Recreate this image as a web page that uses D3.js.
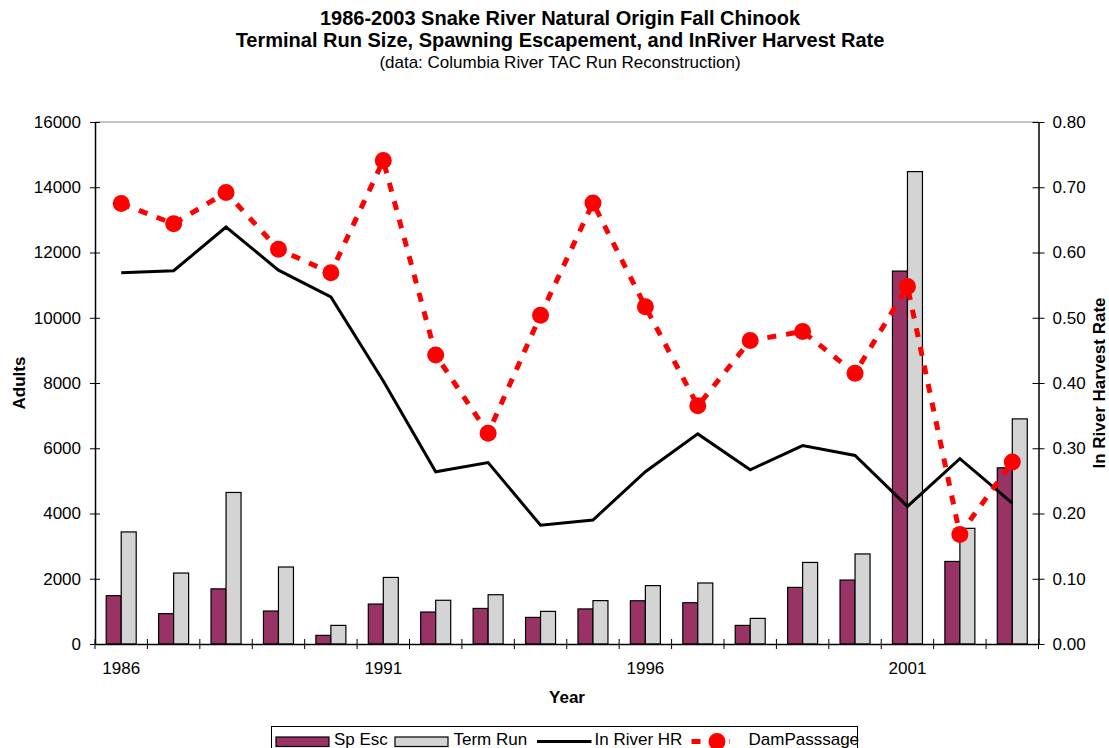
<!DOCTYPE html>
<head>
  <meta charset="utf-8">
  <script src="https://d3js.org/d3.v7.min.js"></script>
  <style>
    body { margin:0; background:#fff; }
    svg { display:block; font-family:"Liberation Sans", Arial, sans-serif; }
  </style>
</head>

<body>
  <svg width="1109" height="748"></svg>
  <script>
    // values
    var years = d3.range(1986, 2004);
    var spEsc = [1480, 930, 1690, 1010, 265, 1225, 980, 1090, 815, 1075, 1325, 1265, 570, 1735, 1960, 11430, 2530, 5400];
    var termRun = [3435, 2175, 4645, 2360, 570, 2040, 1340, 1510, 1000, 1330, 1790, 1870, 785, 2500, 2760, 14480, 3545, 6900];
    var inRiverHR = [0.569, 0.572, 0.639, 0.573, 0.532, 0.403, 0.264, 0.278, 0.182, 0.190, 0.264, 0.322, 0.267, 0.304, 0.289, 0.211, 0.284, 0.216];
    var damPassage = [0.675, 0.644, 0.692, 0.605, 0.569, 0.741, 0.443, 0.323, 0.504, 0.676, 0.517, 0.365, 0.465, 0.479, 0.415, 0.548, 0.168, 0.279];
    var leftTicks = d3.range(0, 16001, 2000);
    var rightTicks = d3.range(0, 0.81, 0.1);
    var yearLabels = [1986, 1991, 1996, 2001];

    var plot = {left: 95, right: 1038.5, top: 122, bottom: 644};
    var font = '"Liberation Sans", Arial, sans-serif';

    var svg = d3.select('svg');

    var x = d3.scaleBand().domain(years).range([plot.left, plot.right]);
    var xs = d3.scaleBand().domain(['sp', 'term']).range([0, x.bandwidth()]).paddingOuter(0.747);
    var yL = d3.scaleLinear().domain([0, 16000]).range([plot.bottom, plot.top]);
    var yR = d3.scaleLinear().domain([0, 0.8]).range([plot.bottom, plot.top]);

    // titles
    var titles = [
      {t: '1986-2003 Snake River Natural Origin Fall Chinook', y: 25, w: 'bold', s: 20},
      {t: 'Terminal Run Size, Spawning Escapement, and InRiver Harvest Rate', y: 47, w: 'bold', s: 20},
      {t: '(data: Columbia River TAC Run Reconstruction)', y: 68, w: 'normal', s: 17}
    ];
    svg.selectAll('.title').data(titles).enter().append('text')
      .attr('x', 560).attr('y', d => d.y)
      .attr('text-anchor', 'middle')
      .style('font-size', d => d.s + 'px')
      .style('font-weight', d => d.w)
      .text(d => d.t);

    // plot top border
    svg.append('line')
      .attr('x1', plot.left).attr('x2', plot.right)
      .attr('y1', plot.top).attr('y2', plot.top)
      .attr('stroke', '#888').attr('stroke-width', 1);

    // bars
    var g = svg.append('g');
    years.forEach(function(yr, i) {
      [['sp', spEsc[i], '#993366'], ['term', termRun[i], '#d4d4d4']].forEach(function(b) {
        g.append('rect')
          .attr('x', x(yr) + xs(b[0]))
          .attr('width', xs.bandwidth())
          .attr('y', yL(b[1]))
          .attr('height', plot.bottom - yL(b[1]))
          .attr('fill', b[2])
          .attr('stroke', '#000')
          .attr('stroke-width', 1.2);
      });
    });

    var cx = d => x(d) + x.bandwidth() / 2;

    // In River HR line
    svg.append('path')
      .datum(years)
      .attr('fill', 'none').attr('stroke', '#000').attr('stroke-width', 3)
      .attr('d', d3.line().x(cx).y((d, i) => yR(inRiverHR[i])));

    // DamPasssage dashed line + dots
    svg.append('path')
      .datum(years)
      .attr('fill', 'none').attr('stroke', '#ff0000').attr('stroke-width', 5)
      .attr('stroke-dasharray', '9,10')
      .attr('d', d3.line().x(cx).y((d, i) => yR(damPassage[i])));
    svg.selectAll('.dot').data(years).enter().append('circle')
      .attr('cx', cx).attr('cy', (d, i) => yR(damPassage[i]))
      .attr('r', 8.5).attr('fill', '#ff0000');

    // left axis
    var axL = svg.append('g').attr('transform', 'translate(' + plot.left + ',0)')
      .call(d3.axisLeft(yL).tickValues(leftTicks).tickSize(5).tickSizeOuter(0).tickPadding(9).tickFormat(d3.format('d')));
    axL.selectAll('.tick line').attr('x1', 5);
    // right axis
    var axR = svg.append('g').attr('transform', 'translate(' + plot.right + ',0)')
      .call(d3.axisRight(yR).tickValues(rightTicks).tickSize(6).tickSizeOuter(0).tickPadding(8).tickFormat(d3.format('.2f')));
    axR.selectAll('.tick line').attr('x1', -6);
    // x axis labels
    var axX = svg.append('g').attr('transform', 'translate(0,' + plot.bottom + ')')
      .call(d3.axisBottom(x).tickValues(yearLabels).tickSize(0).tickSizeOuter(0).tickPadding(18));
    axX.selectAll('.tick line').remove();
    // category boundary ticks
    svg.selectAll('.xtick').data(years.map(d => x(d)).concat([plot.right])).enter().append('line')
      .attr('x1', d => d).attr('x2', d => d)
      .attr('y1', plot.bottom - 5).attr('y2', plot.bottom + 5)
      .attr('stroke', '#000').attr('stroke-width', 1);

    [axL, axR, axX].forEach(function(a) {
      a.selectAll('text').style('font-size', '17px').style('font-family', font).attr('fill', '#000');
      a.select('.domain').attr('stroke', '#000').attr('stroke-width', 1.5);
      a.selectAll('.tick line').attr('stroke', '#000');
    });

    // axis titles
    svg.append('text').attr('transform', 'translate(25,383) rotate(-90)')
      .attr('text-anchor', 'middle').style('font-size', '17px').style('font-weight', 'bold')
      .text('Adults');
    svg.append('text').attr('transform', 'translate(1105,383) rotate(-90)')
      .attr('text-anchor', 'middle').style('font-size', '17px').style('font-weight', 'bold')
      .text('In River Harvest Rate');
    svg.append('text').attr('x', 567).attr('y', 703)
      .attr('text-anchor', 'middle').style('font-size', '17px').style('font-weight', 'bold')
      .text('Year');

    // legend
    var lg = svg.append('g');
    lg.append('rect').attr('x', 271.5).attr('y', 726.5).attr('width', 586).attr('height', 30)
      .attr('fill', '#fff').attr('stroke', '#000').attr('stroke-width', 1);
    lg.append('rect').attr('x', 276).attr('y', 737).attr('width', 53).attr('height', 9.5)
      .attr('fill', '#993366').attr('stroke', '#000').attr('stroke-width', 1.2);
    lg.append('text').attr('x', 334).attr('y', 745).style('font-size', '17px').text('Sp Esc');
    lg.append('rect').attr('x', 395).attr('y', 737).attr('width', 53).attr('height', 9.5)
      .attr('fill', '#d4d4d4').attr('stroke', '#000').attr('stroke-width', 1.2);
    lg.append('text').attr('x', 453.5).attr('y', 745).style('font-size', '17px').text('Term Run');
    lg.append('line').attr('x1', 537).attr('x2', 591.5).attr('y1', 741.5).attr('y2', 741.5)
      .attr('stroke', '#000').attr('stroke-width', 3);
    lg.append('text').attr('x', 594.5).attr('y', 745).style('font-size', '17px').text('In River HR');
    lg.append('line').attr('x1', 691.5).attr('x2', 730).attr('y1', 741.5).attr('y2', 741.5)
      .attr('stroke', '#ff0000').attr('stroke-width', 5).attr('stroke-dasharray', '9,10');
    lg.append('circle').attr('cx', 717).attr('cy', 741.5).attr('r', 8.5).attr('fill', '#ff0000');
    lg.append('text').attr('x', 748.5).attr('y', 745).style('font-size', '17px').text('DamPasssage');
  </script>
</body>
